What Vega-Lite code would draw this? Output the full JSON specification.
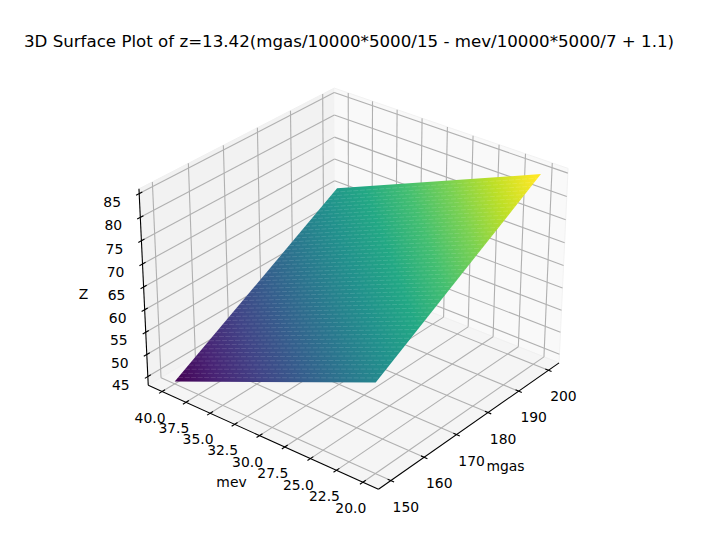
{"$schema":"https://vega.github.io/schema/vega-lite/v6.json","width":701,"height":543,"autosize":{"type":"fit","contains":"padding"},"padding":0,"background":"white","view":{"stroke":null},
"title":{"text":"3D Surface Plot of z=13.42(mgas/10000*5000/15 - mev/10000*5000/7 + 1.1)","orient":"none","anchor":"start","align":"center","baseline":"middle","dx":349,"dy":41.5,"font":"DejaVu Sans","fontSize":16.67,"fontWeight":"normal","color":"black"},
"data":{"values":[
{"k":"wallL","s":0,"mgas":146.35,"mev":41.46,"z":43},{"k":"wallL","s":1,"mgas":203.65,"mev":41.46,"z":43},{"k":"wallL","s":2,"mgas":203.65,"mev":41.46,"z":86},{"k":"wallL","s":3,"mgas":146.35,"mev":41.46,"z":86},
{"k":"wallR","s":0,"mgas":203.65,"mev":41.46,"z":43},{"k":"wallR","s":1,"mgas":203.65,"mev":18.54,"z":43},{"k":"wallR","s":2,"mgas":203.65,"mev":18.54,"z":86},{"k":"wallR","s":3,"mgas":203.65,"mev":41.46,"z":86},
{"k":"floor","s":0,"mgas":146.35,"mev":41.46,"z":43},{"k":"floor","s":1,"mgas":203.65,"mev":41.46,"z":43},{"k":"floor","s":2,"mgas":203.65,"mev":18.54,"z":43},{"k":"floor","s":3,"mgas":146.35,"mev":18.54,"z":43},
{"k":"surf","s":0,"mgas":150,"mev":40,"z":43.52},{"k":"surf","s":1,"mgas":150,"mev":20,"z":62.69},{"k":"surf","s":2,"mgas":200,"mev":20,"z":85.06},{"k":"surf","s":3,"mgas":200,"mev":40,"z":65.89},

{"k":"grid","mgas":150,"mev":18.54,"z":43,"mgas2":150,"mev2":41.46,"z2":43},{"k":"grid","mgas":150,"mev":41.46,"z":43,"mgas2":150,"mev2":41.46,"z2":86},
{"k":"grid","mgas":160,"mev":18.54,"z":43,"mgas2":160,"mev2":41.46,"z2":43},{"k":"grid","mgas":160,"mev":41.46,"z":43,"mgas2":160,"mev2":41.46,"z2":86},
{"k":"grid","mgas":170,"mev":18.54,"z":43,"mgas2":170,"mev2":41.46,"z2":43},{"k":"grid","mgas":170,"mev":41.46,"z":43,"mgas2":170,"mev2":41.46,"z2":86},
{"k":"grid","mgas":180,"mev":18.54,"z":43,"mgas2":180,"mev2":41.46,"z2":43},{"k":"grid","mgas":180,"mev":41.46,"z":43,"mgas2":180,"mev2":41.46,"z2":86},
{"k":"grid","mgas":190,"mev":18.54,"z":43,"mgas2":190,"mev2":41.46,"z2":43},{"k":"grid","mgas":190,"mev":41.46,"z":43,"mgas2":190,"mev2":41.46,"z2":86},
{"k":"grid","mgas":200,"mev":18.54,"z":43,"mgas2":200,"mev2":41.46,"z2":43},{"k":"grid","mgas":200,"mev":41.46,"z":43,"mgas2":200,"mev2":41.46,"z2":86},

{"k":"grid","mgas":146.35,"mev":20,"z":43,"mgas2":203.65,"mev2":20,"z2":43},{"k":"grid","mgas":203.65,"mev":20,"z":43,"mgas2":203.65,"mev2":20,"z2":86},
{"k":"grid","mgas":146.35,"mev":22.5,"z":43,"mgas2":203.65,"mev2":22.5,"z2":43},{"k":"grid","mgas":203.65,"mev":22.5,"z":43,"mgas2":203.65,"mev2":22.5,"z2":86},
{"k":"grid","mgas":146.35,"mev":25,"z":43,"mgas2":203.65,"mev2":25,"z2":43},{"k":"grid","mgas":203.65,"mev":25,"z":43,"mgas2":203.65,"mev2":25,"z2":86},
{"k":"grid","mgas":146.35,"mev":27.5,"z":43,"mgas2":203.65,"mev2":27.5,"z2":43},{"k":"grid","mgas":203.65,"mev":27.5,"z":43,"mgas2":203.65,"mev2":27.5,"z2":86},
{"k":"grid","mgas":146.35,"mev":30,"z":43,"mgas2":203.65,"mev2":30,"z2":43},{"k":"grid","mgas":203.65,"mev":30,"z":43,"mgas2":203.65,"mev2":30,"z2":86},
{"k":"grid","mgas":146.35,"mev":32.5,"z":43,"mgas2":203.65,"mev2":32.5,"z2":43},{"k":"grid","mgas":203.65,"mev":32.5,"z":43,"mgas2":203.65,"mev2":32.5,"z2":86},
{"k":"grid","mgas":146.35,"mev":35,"z":43,"mgas2":203.65,"mev2":35,"z2":43},{"k":"grid","mgas":203.65,"mev":35,"z":43,"mgas2":203.65,"mev2":35,"z2":86},
{"k":"grid","mgas":146.35,"mev":37.5,"z":43,"mgas2":203.65,"mev2":37.5,"z2":43},{"k":"grid","mgas":203.65,"mev":37.5,"z":43,"mgas2":203.65,"mev2":37.5,"z2":86},
{"k":"grid","mgas":146.35,"mev":40,"z":43,"mgas2":203.65,"mev2":40,"z2":43},{"k":"grid","mgas":203.65,"mev":40,"z":43,"mgas2":203.65,"mev2":40,"z2":86},

{"k":"grid","mgas":146.35,"mev":41.46,"z":45,"mgas2":203.65,"mev2":41.46,"z2":45},{"k":"grid","mgas":203.65,"mev":41.46,"z":45,"mgas2":203.65,"mev2":18.54,"z2":45},
{"k":"grid","mgas":146.35,"mev":41.46,"z":50,"mgas2":203.65,"mev2":41.46,"z2":50},{"k":"grid","mgas":203.65,"mev":41.46,"z":50,"mgas2":203.65,"mev2":18.54,"z2":50},
{"k":"grid","mgas":146.35,"mev":41.46,"z":55,"mgas2":203.65,"mev2":41.46,"z2":55},{"k":"grid","mgas":203.65,"mev":41.46,"z":55,"mgas2":203.65,"mev2":18.54,"z2":55},
{"k":"grid","mgas":146.35,"mev":41.46,"z":60,"mgas2":203.65,"mev2":41.46,"z2":60},{"k":"grid","mgas":203.65,"mev":41.46,"z":60,"mgas2":203.65,"mev2":18.54,"z2":60},
{"k":"grid","mgas":146.35,"mev":41.46,"z":65,"mgas2":203.65,"mev2":41.46,"z2":65},{"k":"grid","mgas":203.65,"mev":41.46,"z":65,"mgas2":203.65,"mev2":18.54,"z2":65},
{"k":"grid","mgas":146.35,"mev":41.46,"z":70,"mgas2":203.65,"mev2":41.46,"z2":70},{"k":"grid","mgas":203.65,"mev":41.46,"z":70,"mgas2":203.65,"mev2":18.54,"z2":70},
{"k":"grid","mgas":146.35,"mev":41.46,"z":75,"mgas2":203.65,"mev2":41.46,"z2":75},{"k":"grid","mgas":203.65,"mev":41.46,"z":75,"mgas2":203.65,"mev2":18.54,"z2":75},
{"k":"grid","mgas":146.35,"mev":41.46,"z":80,"mgas2":203.65,"mev2":41.46,"z2":80},{"k":"grid","mgas":203.65,"mev":41.46,"z":80,"mgas2":203.65,"mev2":18.54,"z2":80},
{"k":"grid","mgas":146.35,"mev":41.46,"z":85,"mgas2":203.65,"mev2":41.46,"z2":85},{"k":"grid","mgas":203.65,"mev":41.46,"z":85,"mgas2":203.65,"mev2":18.54,"z2":85},

{"k":"seam","mgas":151.02,"mev":40,"z":43.98,"mgas2":151.02,"mev2":20,"z2":63.15},{"k":"seam","mgas":152.04,"mev":40,"z":44.43,"mgas2":152.04,"mev2":20,"z2":63.6},{"k":"seam","mgas":153.06,"mev":40,"z":44.89,"mgas2":153.06,"mev2":20,"z2":64.06},{"k":"seam","mgas":154.08,"mev":40,"z":45.35,"mgas2":154.08,"mev2":20,"z2":64.52},{"k":"seam","mgas":155.1,"mev":40,"z":45.8,"mgas2":155.1,"mev2":20,"z2":64.97},{"k":"seam","mgas":156.12,"mev":40,"z":46.26,"mgas2":156.12,"mev2":20,"z2":65.43},{"k":"seam","mgas":157.14,"mev":40,"z":46.72,"mgas2":157.14,"mev2":20,"z2":65.89},{"k":"seam","mgas":158.16,"mev":40,"z":47.17,"mgas2":158.16,"mev2":20,"z2":66.34},{"k":"seam","mgas":159.18,"mev":40,"z":47.63,"mgas2":159.18,"mev2":20,"z2":66.8},{"k":"seam","mgas":160.2,"mev":40,"z":48.08,"mgas2":160.2,"mev2":20,"z2":67.25},
{"k":"seam","mgas":161.22,"mev":40,"z":48.54,"mgas2":161.22,"mev2":20,"z2":67.71},{"k":"seam","mgas":162.24,"mev":40,"z":49,"mgas2":162.24,"mev2":20,"z2":68.17},{"k":"seam","mgas":163.27,"mev":40,"z":49.45,"mgas2":163.27,"mev2":20,"z2":68.62},{"k":"seam","mgas":164.29,"mev":40,"z":49.91,"mgas2":164.29,"mev2":20,"z2":69.08},{"k":"seam","mgas":165.31,"mev":40,"z":50.37,"mgas2":165.31,"mev2":20,"z2":69.54},{"k":"seam","mgas":166.33,"mev":40,"z":50.82,"mgas2":166.33,"mev2":20,"z2":69.99},{"k":"seam","mgas":167.35,"mev":40,"z":51.28,"mgas2":167.35,"mev2":20,"z2":70.45},{"k":"seam","mgas":168.37,"mev":40,"z":51.74,"mgas2":168.37,"mev2":20,"z2":70.91},{"k":"seam","mgas":169.39,"mev":40,"z":52.19,"mgas2":169.39,"mev2":20,"z2":71.36},{"k":"seam","mgas":170.41,"mev":40,"z":52.65,"mgas2":170.41,"mev2":20,"z2":71.82},
{"k":"seam","mgas":171.43,"mev":40,"z":53.11,"mgas2":171.43,"mev2":20,"z2":72.28},{"k":"seam","mgas":172.45,"mev":40,"z":53.56,"mgas2":172.45,"mev2":20,"z2":72.73},{"k":"seam","mgas":173.47,"mev":40,"z":54.02,"mgas2":173.47,"mev2":20,"z2":73.19},{"k":"seam","mgas":174.49,"mev":40,"z":54.48,"mgas2":174.49,"mev2":20,"z2":73.65},{"k":"seam","mgas":175.51,"mev":40,"z":54.93,"mgas2":175.51,"mev2":20,"z2":74.1},{"k":"seam","mgas":176.53,"mev":40,"z":55.39,"mgas2":176.53,"mev2":20,"z2":74.56},{"k":"seam","mgas":177.55,"mev":40,"z":55.84,"mgas2":177.55,"mev2":20,"z2":75.01},{"k":"seam","mgas":178.57,"mev":40,"z":56.3,"mgas2":178.57,"mev2":20,"z2":75.47},{"k":"seam","mgas":179.59,"mev":40,"z":56.76,"mgas2":179.59,"mev2":20,"z2":75.93},{"k":"seam","mgas":180.61,"mev":40,"z":57.21,"mgas2":180.61,"mev2":20,"z2":76.38},
{"k":"seam","mgas":181.63,"mev":40,"z":57.67,"mgas2":181.63,"mev2":20,"z2":76.84},{"k":"seam","mgas":182.65,"mev":40,"z":58.13,"mgas2":182.65,"mev2":20,"z2":77.3},{"k":"seam","mgas":183.67,"mev":40,"z":58.58,"mgas2":183.67,"mev2":20,"z2":77.75},{"k":"seam","mgas":184.69,"mev":40,"z":59.04,"mgas2":184.69,"mev2":20,"z2":78.21},{"k":"seam","mgas":185.71,"mev":40,"z":59.5,"mgas2":185.71,"mev2":20,"z2":78.67},{"k":"seam","mgas":186.73,"mev":40,"z":59.95,"mgas2":186.73,"mev2":20,"z2":79.12},{"k":"seam","mgas":187.76,"mev":40,"z":60.41,"mgas2":187.76,"mev2":20,"z2":79.58},{"k":"seam","mgas":188.78,"mev":40,"z":60.87,"mgas2":188.78,"mev2":20,"z2":80.04},{"k":"seam","mgas":189.8,"mev":40,"z":61.32,"mgas2":189.8,"mev2":20,"z2":80.49},{"k":"seam","mgas":190.82,"mev":40,"z":61.78,"mgas2":190.82,"mev2":20,"z2":80.95},
{"k":"seam","mgas":191.84,"mev":40,"z":62.23,"mgas2":191.84,"mev2":20,"z2":81.4},{"k":"seam","mgas":192.86,"mev":40,"z":62.69,"mgas2":192.86,"mev2":20,"z2":81.86},{"k":"seam","mgas":193.88,"mev":40,"z":63.15,"mgas2":193.88,"mev2":20,"z2":82.32},{"k":"seam","mgas":194.9,"mev":40,"z":63.6,"mgas2":194.9,"mev2":20,"z2":82.77},{"k":"seam","mgas":195.92,"mev":40,"z":64.06,"mgas2":195.92,"mev2":20,"z2":83.23},{"k":"seam","mgas":196.94,"mev":40,"z":64.52,"mgas2":196.94,"mev2":20,"z2":83.69},{"k":"seam","mgas":197.96,"mev":40,"z":64.97,"mgas2":197.96,"mev2":20,"z2":84.14},{"k":"seam","mgas":198.98,"mev":40,"z":65.43,"mgas2":198.98,"mev2":20,"z2":84.6},

{"k":"axis","mgas":146.35,"mev":41.46,"z":43,"mgas2":146.35,"mev2":18.54,"z2":43},{"k":"axis","mgas":146.35,"mev":18.54,"z":43,"mgas2":203.65,"mev2":18.54,"z2":43},{"k":"axis","mgas":146.35,"mev":41.46,"z":43,"mgas2":146.35,"mev2":41.46,"z2":86},

{"k":"axis","mgas":150,"mev":18.24,"z":43,"mgas2":150,"mev2":18.84,"z2":43},{"k":"axis","mgas":160,"mev":18.24,"z":43,"mgas2":160,"mev2":18.84,"z2":43},{"k":"axis","mgas":170,"mev":18.24,"z":43,"mgas2":170,"mev2":18.84,"z2":43},{"k":"axis","mgas":180,"mev":18.24,"z":43,"mgas2":180,"mev2":18.84,"z2":43},{"k":"axis","mgas":190,"mev":18.24,"z":43,"mgas2":190,"mev2":18.84,"z2":43},{"k":"axis","mgas":200,"mev":18.24,"z":43,"mgas2":200,"mev2":18.84,"z2":43},
{"k":"axis","mgas":145.5,"mev":20,"z":43,"mgas2":147.2,"mev2":20,"z2":43},{"k":"axis","mgas":145.5,"mev":22.5,"z":43,"mgas2":147.2,"mev2":22.5,"z2":43},{"k":"axis","mgas":145.5,"mev":25,"z":43,"mgas2":147.2,"mev2":25,"z2":43},{"k":"axis","mgas":145.5,"mev":27.5,"z":43,"mgas2":147.2,"mev2":27.5,"z2":43},{"k":"axis","mgas":145.5,"mev":30,"z":43,"mgas2":147.2,"mev2":30,"z2":43},{"k":"axis","mgas":145.5,"mev":32.5,"z":43,"mgas2":147.2,"mev2":32.5,"z2":43},{"k":"axis","mgas":145.5,"mev":35,"z":43,"mgas2":147.2,"mev2":35,"z2":43},{"k":"axis","mgas":145.5,"mev":37.5,"z":43,"mgas2":147.2,"mev2":37.5,"z2":43},{"k":"axis","mgas":145.5,"mev":40,"z":43,"mgas2":147.2,"mev2":40,"z2":43},
{"k":"axis","mgas":145.5,"mev":41.46,"z":45,"mgas2":147.2,"mev2":41.46,"z2":45},{"k":"axis","mgas":145.5,"mev":41.46,"z":50,"mgas2":147.2,"mev2":41.46,"z2":50},{"k":"axis","mgas":145.5,"mev":41.46,"z":55,"mgas2":147.2,"mev2":41.46,"z2":55},{"k":"axis","mgas":145.5,"mev":41.46,"z":60,"mgas2":147.2,"mev2":41.46,"z2":60},{"k":"axis","mgas":145.5,"mev":41.46,"z":65,"mgas2":147.2,"mev2":41.46,"z2":65},{"k":"axis","mgas":145.5,"mev":41.46,"z":70,"mgas2":147.2,"mev2":41.46,"z2":70},{"k":"axis","mgas":145.5,"mev":41.46,"z":75,"mgas2":147.2,"mev2":41.46,"z2":75},{"k":"axis","mgas":145.5,"mev":41.46,"z":80,"mgas2":147.2,"mev2":41.46,"z2":80},{"k":"axis","mgas":145.5,"mev":41.46,"z":85,"mgas2":147.2,"mev2":41.46,"z2":85},

{"k":"tm","mgas":150,"mev":18.54,"z":43,"t":"150"},{"k":"tm","mgas":160,"mev":18.54,"z":43,"t":"160"},{"k":"tm","mgas":170,"mev":18.54,"z":43,"t":"170"},{"k":"tm","mgas":180,"mev":18.54,"z":43,"t":"180"},{"k":"tm","mgas":190,"mev":18.54,"z":43,"t":"190"},{"k":"tm","mgas":200,"mev":18.54,"z":43,"t":"200"},
{"k":"te","mgas":146.35,"mev":20,"z":43,"t":"20.0"},{"k":"te","mgas":146.35,"mev":22.5,"z":43,"t":"22.5"},{"k":"te","mgas":146.35,"mev":25,"z":43,"t":"25.0"},{"k":"te","mgas":146.35,"mev":27.5,"z":43,"t":"27.5"},{"k":"te","mgas":146.35,"mev":30,"z":43,"t":"30.0"},{"k":"te","mgas":146.35,"mev":32.5,"z":43,"t":"32.5"},{"k":"te","mgas":146.35,"mev":35,"z":43,"t":"35.0"},{"k":"te","mgas":146.35,"mev":37.5,"z":43,"t":"37.5"},{"k":"te","mgas":146.35,"mev":40,"z":43,"t":"40.0"},
{"k":"tz","mgas":146.35,"mev":41.46,"z":45,"t":"45"},{"k":"tz","mgas":146.35,"mev":41.46,"z":50,"t":"50"},{"k":"tz","mgas":146.35,"mev":41.46,"z":55,"t":"55"},{"k":"tz","mgas":146.35,"mev":41.46,"z":60,"t":"60"},{"k":"tz","mgas":146.35,"mev":41.46,"z":65,"t":"65"},{"k":"tz","mgas":146.35,"mev":41.46,"z":70,"t":"70"},{"k":"tz","mgas":146.35,"mev":41.46,"z":75,"t":"75"},{"k":"tz","mgas":146.35,"mev":41.46,"z":80,"t":"80"},{"k":"tz","mgas":146.35,"mev":41.46,"z":85,"t":"85"},
{"k":"tm2","mgas":175,"mev":18.54,"z":43,"t":"mgas"},{"k":"te2","mgas":146.35,"mev":30,"z":43,"t":"mev"},{"k":"tz2","mgas":146.35,"mev":41.46,"z":65,"t":"Z"}
]},
"transform":[
{"calculate":"(datum.mgas-146.35)/57.3-0.5","as":"A"},{"calculate":"(datum.mev-18.54)/22.92-0.5","as":"B"},{"calculate":"(datum.z-43)/43-0.5","as":"C"},
{"calculate":"10+0.80754*datum.A+0.65395*datum.B-0.43563*datum.C","as":"d"},
{"calculate":"355.2+2507*(0.74917*datum.A-0.92513*datum.B)/datum.d","as":"px"},
{"calculate":"278.4-2507*(0.45137*datum.A+0.36551*datum.B+0.77937*datum.C)/datum.d","as":"py"},
{"calculate":"(datum.mgas2-146.35)/57.3-0.5","as":"A2"},{"calculate":"(datum.mev2-18.54)/22.92-0.5","as":"B2"},{"calculate":"(datum.z2-43)/43-0.5","as":"C2"},
{"calculate":"10+0.80754*datum.A2+0.65395*datum.B2-0.43563*datum.C2","as":"d2"},
{"calculate":"355.2+2507*(0.74917*datum.A2-0.92513*datum.B2)/datum.d2","as":"px2"},
{"calculate":"278.4-2507*(0.45137*datum.A2+0.36551*datum.B2+0.77937*datum.C2)/datum.d2","as":"py2"}
],
"encoding":{
"x":{"field":"px","type":"quantitative","scale":{"domain":[0,701],"nice":false,"zero":false},"axis":null},
"y":{"field":"py","type":"quantitative","scale":{"domain":[0,543],"reverse":true,"nice":false,"zero":false},"axis":null}
},
"layer":[
{"transform":[{"filter":"datum.k=='wallL'"}],"mark":{"type":"line","filled":true,"fill":"#f2f2f2","stroke":"#f0f0f0","strokeWidth":1,"clip":false},"encoding":{"order":{"field":"s"}}},
{"transform":[{"filter":"datum.k=='wallR'"}],"mark":{"type":"line","filled":true,"fill":"#f9f9f9","stroke":"#f2f2f2","strokeWidth":1},"encoding":{"order":{"field":"s"}}},
{"transform":[{"filter":"datum.k=='floor'"}],"mark":{"type":"line","filled":true,"fill":"#f5f5f5","stroke":"#f0f0f0","strokeWidth":1},"encoding":{"order":{"field":"s"}}},
{"transform":[{"filter":"datum.k=='grid'"}],"mark":{"type":"rule","stroke":"#b0b0b0","strokeWidth":1.1},"encoding":{"x2":{"field":"px2"},"y2":{"field":"py2"}}},
{"transform":[{"filter":"datum.k=='surf'"}],"mark":{"type":"line","filled":true,"strokeWidth":0,"fill":{"gradient":"linear","x1":0,"y1":0.995,"x2":1.141,"y2":0.75,"stops":[{"offset":0,"color":"#440154"},{"offset":0.1,"color":"#482475"},{"offset":0.2,"color":"#414487"},{"offset":0.3,"color":"#355f8d"},{"offset":0.4,"color":"#2a788e"},{"offset":0.5,"color":"#21918c"},{"offset":0.6,"color":"#22a884"},{"offset":0.7,"color":"#44bf70"},{"offset":0.8,"color":"#7ad151"},{"offset":0.9,"color":"#bddf26"},{"offset":1,"color":"#fde725"}]}},"encoding":{"order":{"field":"s"}}},
{"transform":[{"filter":"datum.k=='seam'"}],"mark":{"type":"rule","stroke":"white","strokeWidth":0.7,"opacity":0.18,"strokeDash":[5,1.5]},"encoding":{"x2":{"field":"px2"},"y2":{"field":"py2"}}},
{"transform":[{"filter":"datum.k=='axis'"}],"mark":{"type":"rule","stroke":"black","strokeWidth":1.1},"encoding":{"x2":{"field":"px2"},"y2":{"field":"py2"}}},
{"transform":[{"filter":"datum.k=='tm'"}],"mark":{"type":"text","font":"DejaVu Sans","fontSize":13.9,"fill":"black","dx":15,"dy":27,"align":"center","baseline":"middle"},"encoding":{"text":{"field":"t"}}},
{"transform":[{"filter":"datum.k=='te'"}],"mark":{"type":"text","font":"DejaVu Sans","fontSize":13.9,"fill":"black","dx":-12,"dy":27,"align":"center","baseline":"middle"},"encoding":{"text":{"field":"t"}}},
{"transform":[{"filter":"datum.k=='tz'"}],"mark":{"type":"text","font":"DejaVu Sans","fontSize":13.9,"fill":"black","dx":-27,"dy":9,"align":"center","baseline":"middle"},"encoding":{"text":{"field":"t"}}},
{"transform":[{"filter":"datum.k=='tm2'"}],"mark":{"type":"text","font":"DejaVu Sans","fontSize":13.9,"fill":"black","dx":33,"dy":44,"align":"center","baseline":"middle"},"encoding":{"text":{"field":"t"}}},
{"transform":[{"filter":"datum.k=='te2'"}],"mark":{"type":"text","font":"DejaVu Sans","fontSize":13.9,"fill":"black","dx":-28,"dy":47,"align":"center","baseline":"middle"},"encoding":{"text":{"field":"t"}}},
{"transform":[{"filter":"datum.k=='tz2'"}],"mark":{"type":"text","font":"DejaVu Sans","fontSize":13.9,"fill":"black","dx":-60,"dy":8,"align":"center","baseline":"middle"},"encoding":{"text":{"field":"t"}}}
]}
